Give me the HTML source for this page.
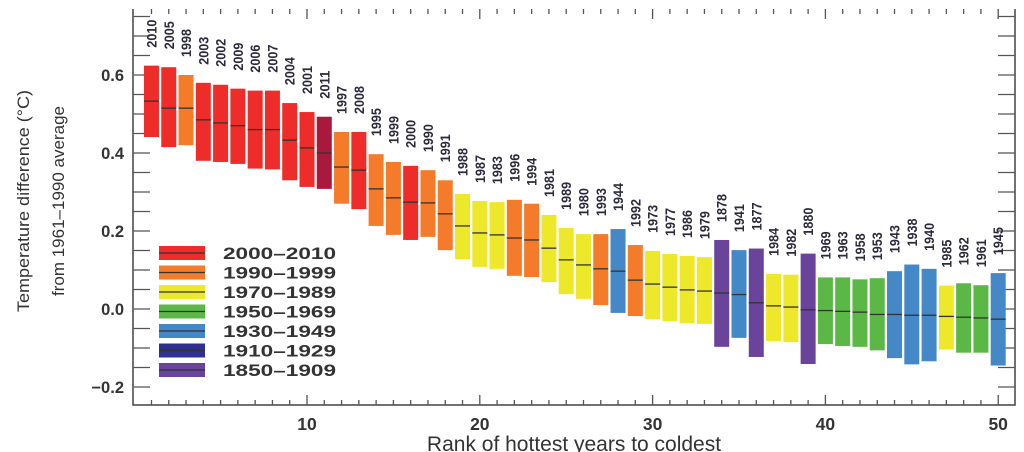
<!DOCTYPE html>
<html><head><meta charset="utf-8">
<style>
html,body{margin:0;padding:0;background:#fff;}
svg{display:block;font-family:"Liberation Sans",sans-serif;}
</style></head>
<body>
<svg id="chart" width="1024" height="452" viewBox="0 0 1024 452" xmlns="http://www.w3.org/2000/svg">
<g id="frame"></g>
<g id="bars"></g>
<g id="labels"></g>
<g id="legend"></g>
</svg>
<script>
const years = [2010,2005,1998,2003,2002,2009,2006,2007,2004,2001,2011,1997,2008,1995,1999,2000,1990,1991,1988,1987,1983,1996,1994,1981,1989,1980,1993,1944,1992,1973,1977,1986,1979,1878,1941,1877,1984,1982,1880,1969,1963,1958,1953,1943,1938,1940,1985,1962,1961,1945];
const means = [0.533,0.515,0.515,0.485,0.477,0.47,0.46,0.46,0.433,0.413,0.40,0.364,0.356,0.308,0.285,0.274,0.272,0.244,0.213,0.195,0.19,0.182,0.177,0.156,0.126,0.113,0.103,0.097,0.074,0.064,0.056,0.049,0.046,0.041,0.037,0.016,0.008,0.005,-0.002,-0.004,-0.006,-0.008,-0.014,-0.014,-0.016,-0.016,-0.019,-0.021,-0.023,-0.026];
const uppers = [0.624,0.62,0.60,0.58,0.575,0.565,0.56,0.56,0.528,0.505,0.493,0.454,0.454,0.397,0.377,0.367,0.356,0.33,0.295,0.277,0.274,0.28,0.27,0.241,0.208,0.192,0.192,0.205,0.164,0.149,0.141,0.136,0.133,0.177,0.151,0.155,0.09,0.088,0.142,0.081,0.081,0.076,0.079,0.097,0.114,0.103,0.06,0.066,0.061,0.092];
const lowers = [0.441,0.415,0.42,0.38,0.377,0.372,0.36,0.358,0.33,0.313,0.308,0.27,0.256,0.213,0.19,0.177,0.185,0.151,0.128,0.108,0.103,0.085,0.082,0.069,0.038,0.026,0.01,-0.01,-0.018,-0.026,-0.031,-0.036,-0.038,-0.097,-0.074,-0.123,-0.082,-0.085,-0.141,-0.09,-0.095,-0.097,-0.106,-0.126,-0.142,-0.134,-0.104,-0.112,-0.112,-0.145];
const yTicks = [-0.2,0.0,0.2,0.4,0.6];
const xTicks = [10,20,30,40,50];
const legendLabels = ["2000–2010","1990–1999","1970–1989","1950–1969","1930–1949","1910–1929","1850–1909"];
const legendColors = ["#ee2d2a","#f47b29","#eee82a","#5bb846","#4488c8","#2e3192","#6a449b"];

const NS="http://www.w3.org/2000/svg";
const X0=133, X1=1015, Y0=9, Y1=405;
function xs(r){return 307+(r-10)*17.28;}
function ys(v){return 309-v*390;}
function colorFor(y){
  if(y===2011) return "#a8193d";
  if(y>=2000) return legendColors[0];
  if(y>=1990) return legendColors[1];
  if(y>=1970) return legendColors[2];
  if(y>=1950) return legendColors[3];
  if(y>=1930) return legendColors[4];
  if(y>=1910) return legendColors[5];
  return legendColors[6];
}
function mk(tag,attrs,parent){const e=document.createElementNS(NS,tag);for(const k in attrs)e.setAttribute(k,attrs[k]);parent.appendChild(e);return e;}
const frame=document.getElementById('frame'), bars=document.getElementById('bars'), labels=document.getElementById('labels'), legend=document.getElementById('legend');

const ax=mk('path',{d:`M${X0},${Y0} V${Y1} H${X1} V${Y0}`,fill:'none',stroke:'#444','stroke-width':1.5},frame);


for(let i=-4;i<=15;i++){
  const v=i*0.05, y=ys(v);
  if(y<Y0+2||y>Y1-2) continue;
  const t=mk('line',{x1:X0,x2:X0+17,y1:y,y2:y,stroke:'#555','stroke-width':1.3},frame);
  
  
  const t2=mk('line',{x1:X1,x2:X1-17,y1:y,y2:y,stroke:'#555','stroke-width':1.3},frame);
  
  
}
yTicks.forEach(v=>{
  const t=mk('text',{x:124,y:ys(v)+6,'text-anchor':'end','font-size':16.5,'font-weight':'bold',fill:'#333'},frame);
  t.textContent=(v<0?'−':'')+Math.abs(v).toFixed(1);
  
  
});
for(let r=1;r<=50;r++){
  const x=xs(r), L=(r%10===0)?10:5;
  const t=mk('line',{x1:x,x2:x,y1:Y1,y2:Y1-L,stroke:'#555','stroke-width':1.3},frame);
  
  
  const t2=mk('line',{x1:x,x2:x,y1:Y0,y2:Y0+L,stroke:'#555','stroke-width':1.3},frame);
  
  
}
xTicks.forEach(r=>{
  const t=mk('text',{x:xs(r),y:430,'text-anchor':'middle','font-size':17.5,'font-weight':'bold',fill:'#333'},frame);
  t.textContent=r;
  
  
});
const xt=mk('text',{x:574,y:451,'text-anchor':'middle','font-size':21,fill:'#333'},frame);
xt.textContent='Rank of hottest years to coldest';


const yt1=mk('text',{x:0,y:0,'text-anchor':'middle','font-size':17,fill:'#333',transform:'translate(29,201) rotate(-90)',textLength:222,lengthAdjust:'spacingAndGlyphs'},frame);
yt1.textContent='Temperature difference (°C)';


const yt2=mk('text',{x:0,y:0,'text-anchor':'middle','font-size':17,fill:'#333',transform:'translate(64,201) rotate(-90)',textLength:190,lengthAdjust:'spacingAndGlyphs'},frame);
yt2.textContent='from 1961–1990 average';



years.forEach((yr,i)=>{
  const r=i+1, x=xs(r), w=15;
  const b=mk('rect',{x:x-w/2,y:ys(uppers[i]),width:w,height:ys(lowers[i])-ys(uppers[i]),fill:colorFor(yr)},bars);
  
  
  const m=mk('line',{x1:x-w/2,x2:x+w/2,y1:ys(means[i]),y2:ys(means[i]),stroke:'#333','stroke-width':1.3},bars);
  
  
  const ly=ys(uppers[i])-18;
  const t=mk('text',{x:0,y:0,'font-size':14,'font-weight':'bold',fill:'#2a2a3a',transform:`translate(${x+5},${ly}) rotate(-90)`,textLength:28,lengthAdjust:'spacingAndGlyphs'},labels);
  t.textContent=yr;
  
  
});

legendLabels.forEach((lab,i)=>{
  const cy=253+i*19.5;
  const s=mk('rect',{x:159,y:cy-7,width:46,height:14,fill:legendColors[i]},legend);
  
  
  const l=mk('line',{x1:159,x2:205,y1:cy,y2:cy,stroke:'#333','stroke-width':1.3},legend);
  
  
  const t=mk('text',{x:223,y:cy+6,'font-size':16.5,'font-weight':'bold',fill:'#333',textLength:113,lengthAdjust:'spacingAndGlyphs'},legend);
  t.textContent=lab;
  
  
});
</script>
</body></html>
